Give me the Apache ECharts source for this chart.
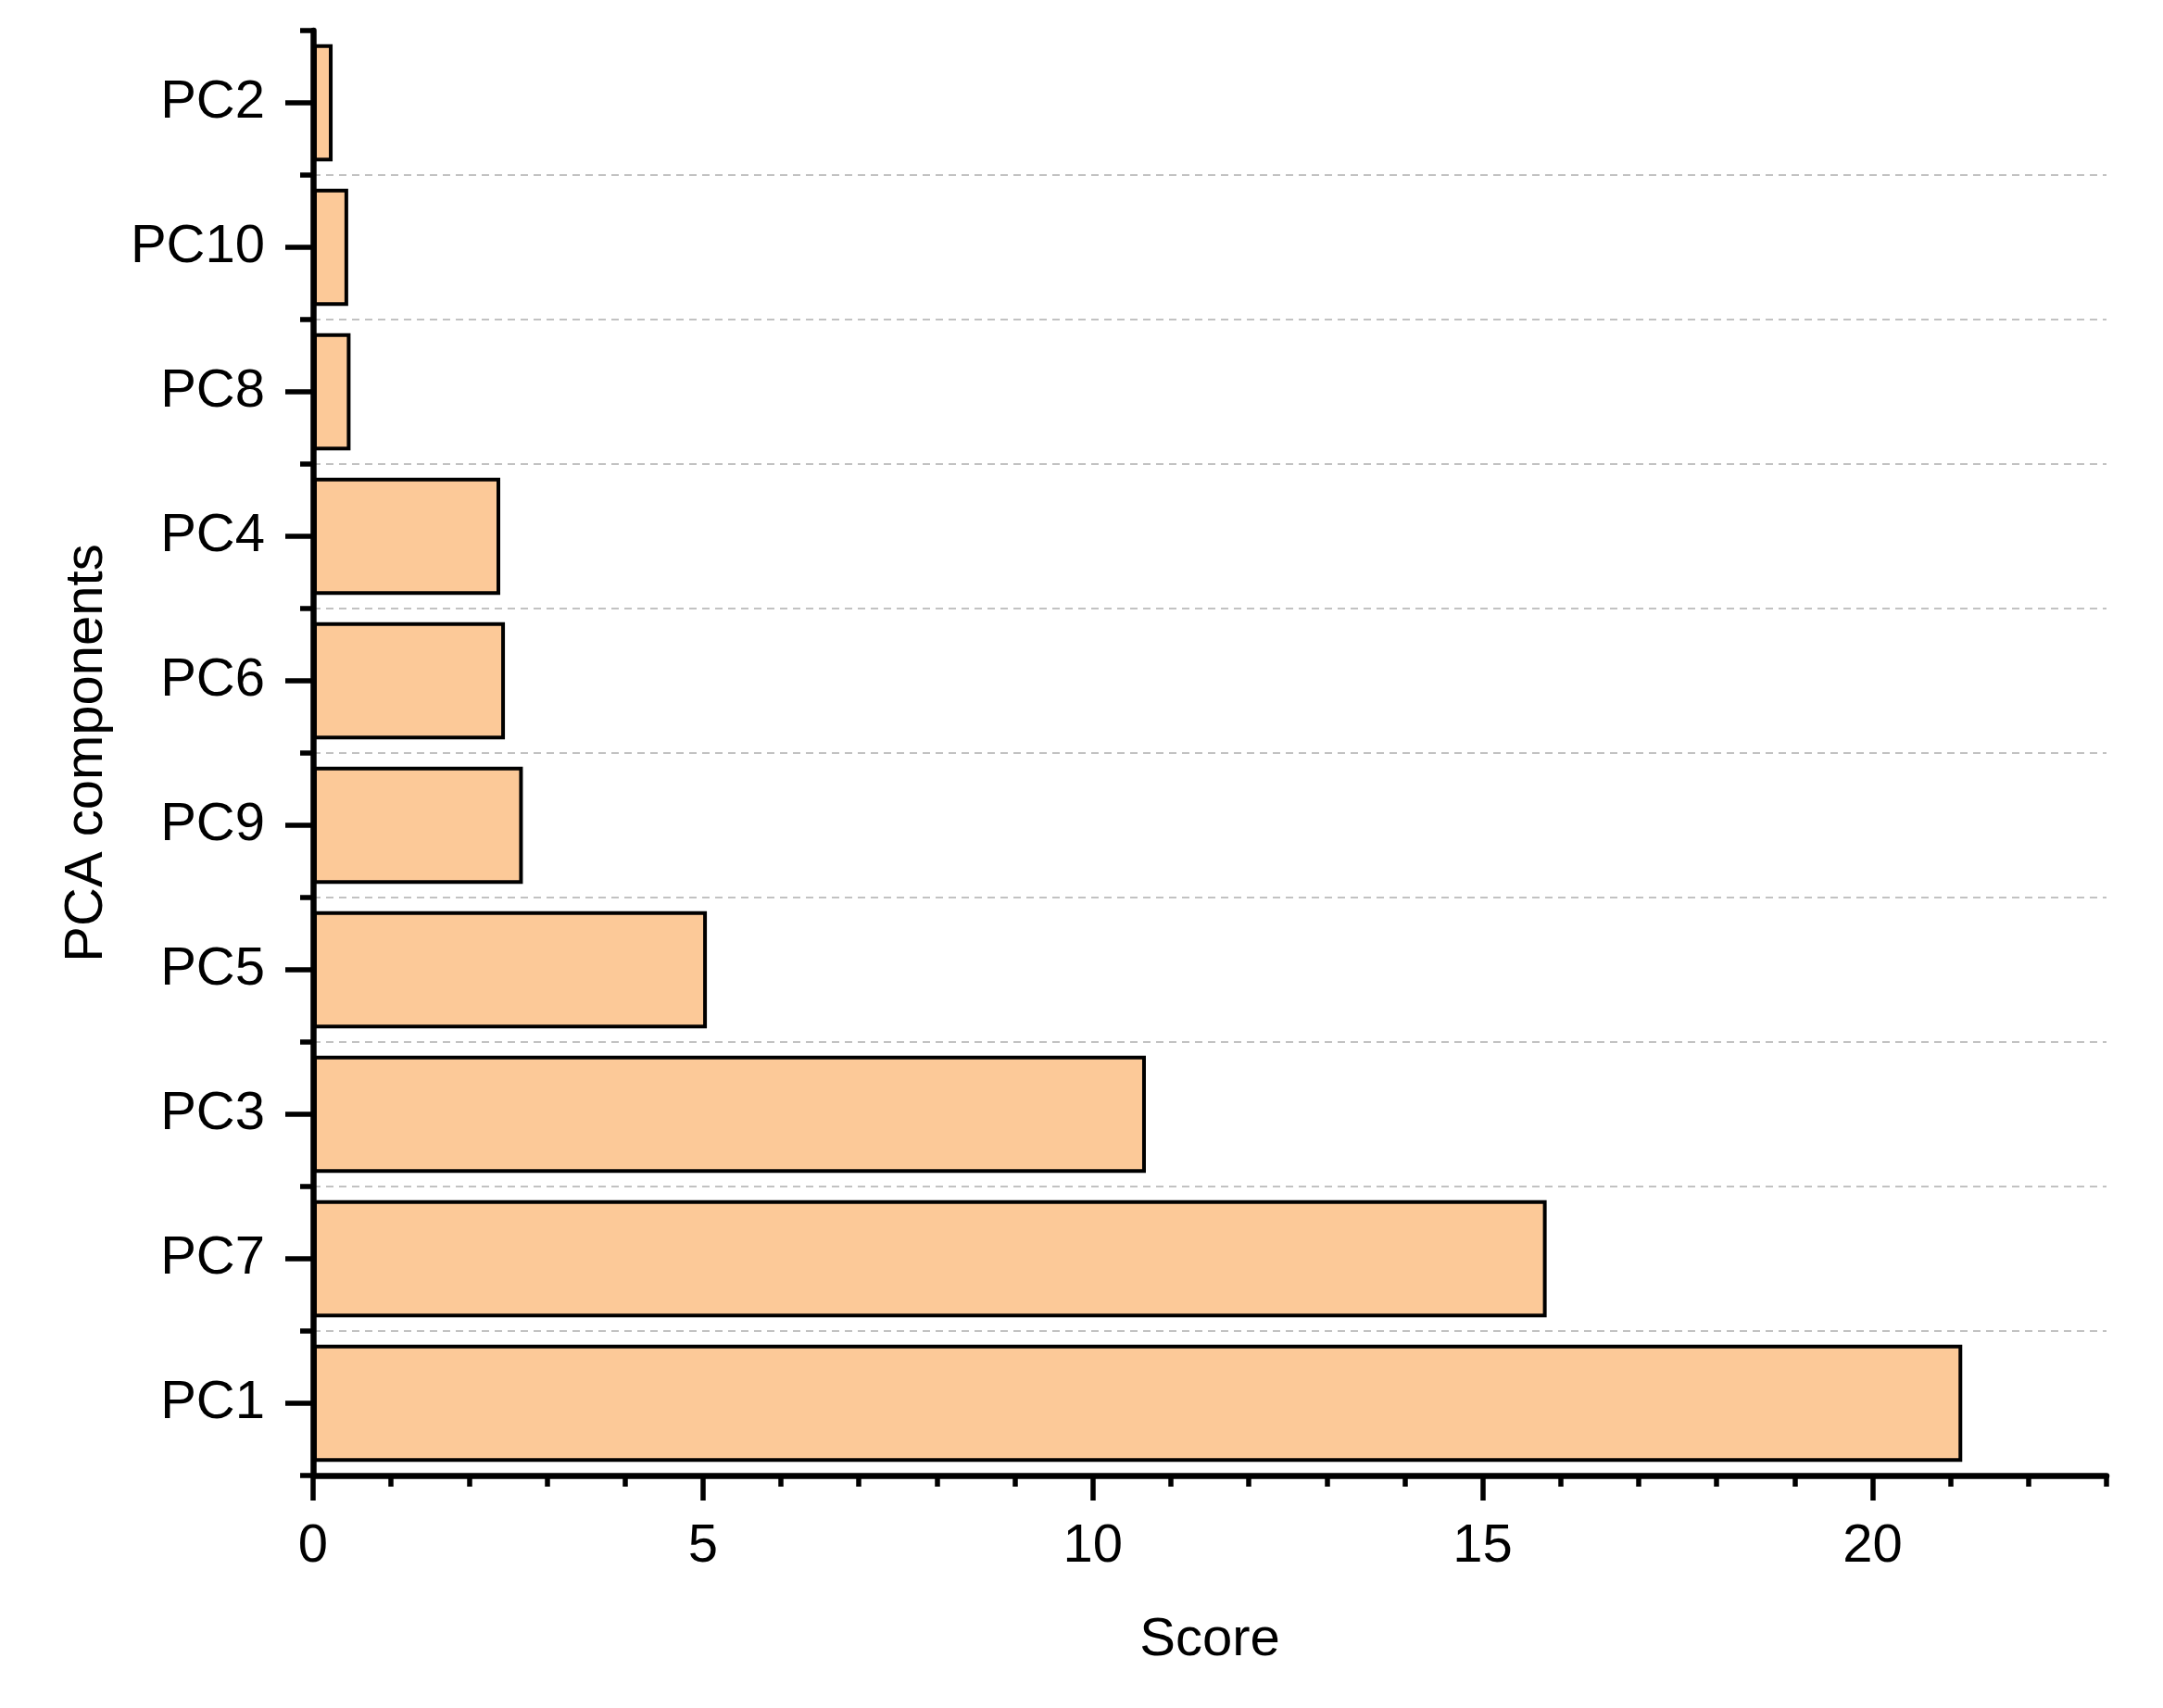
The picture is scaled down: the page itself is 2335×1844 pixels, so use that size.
<!DOCTYPE html>
<html>
<head>
<meta charset="utf-8">
<script src="https://cdn.jsdelivr.net/npm/echarts@6/dist/echarts.min.js"></script>
<style>html,body{margin:0;padding:0;background:#fff}#c{width:2335px;height:1844px}</style>
</head>
<body>
<div id="c"></div>
<script>
const categories = ['PC1','PC7','PC3','PC5','PC9','PC6','PC4','PC8','PC10','PC2'];
const scores = [21.15, 15.82, 10.68, 5.05, 2.69, 2.46, 2.40, 0.48, 0.45, 0.25];
const xMajorTicks = [0, 5, 10, 15, 20];
const xName = 'Score';
const yName = 'PCA components';

const font = 'Liberation Sans, Arial, sans-serif';
const chart = echarts.init(document.getElementById('c'));
chart.setOption({
  backgroundColor: '#ffffff',
  animation: false,
  grid: { left: 338, right: 61, top: 33, bottom: 251 },
  xAxis: [
    {
      type: 'value', position: 'bottom', min: 0, max: 23, interval: 1,
      axisLine: { show: true, onZero: false, lineStyle: { color: '#000', width: 6.5 } },
      axisTick: { show: true, inside: false, length: 12, lineStyle: { color: '#000', width: 5.5 } },
      axisLabel: { show: false },
      splitLine: { show: false },
      name: xName, nameLocation: 'middle', nameGap: 149,
      nameTextStyle: { fontSize: 58, fontFamily: font, color: '#000' }
    },
    {
      type: 'value', position: 'bottom', min: 0, max: 23,
      axisLine: { show: false, onZero: false },
      axisTick: { show: true, length: 27, customValues: xMajorTicks, lineStyle: { color: '#000', width: 5.5 } },
      axisLabel: { show: true, customValues: xMajorTicks, margin: 48, fontSize: 58, fontFamily: font, color: '#000' },
      splitLine: { show: false }
    }
  ],
  yAxis: [
    {
      type: 'category', position: 'left', data: categories,
      axisLine: { show: true, onZero: false, lineStyle: { color: '#000', width: 6.5 } },
      axisTick: { show: true, alignWithLabel: true, length: 30, lineStyle: { color: '#000', width: 5.5 } },
      axisLabel: { show: true, margin: 52, fontSize: 58, fontFamily: font, color: '#000' },
      splitLine: { show: false },
      name: yName, nameLocation: 'middle', nameGap: 215,
      nameTextStyle: { fontSize: 58, fontFamily: font, color: '#000' }
    },
    {
      type: 'category', position: 'left', data: categories,
      axisLine: { show: false, onZero: false },
      axisTick: { show: true, alignWithLabel: false, length: 14, lineStyle: { color: '#000', width: 5.5 } },
      axisLabel: { show: false },
      splitLine: { show: true, showMinLine: false, showMaxLine: false,
        lineStyle: { color: '#c2c2c2', width: 2, type: [8, 6] } }
    }
  ],
  series: [{
    type: 'bar', xAxisIndex: 0, yAxisIndex: 0,
    data: scores, barCategoryGap: '19%',
    itemStyle: { color: '#FCC998', borderColor: '#000', borderWidth: 4 },
    z: 3
  }]
});
</script>
</body>
</html>
